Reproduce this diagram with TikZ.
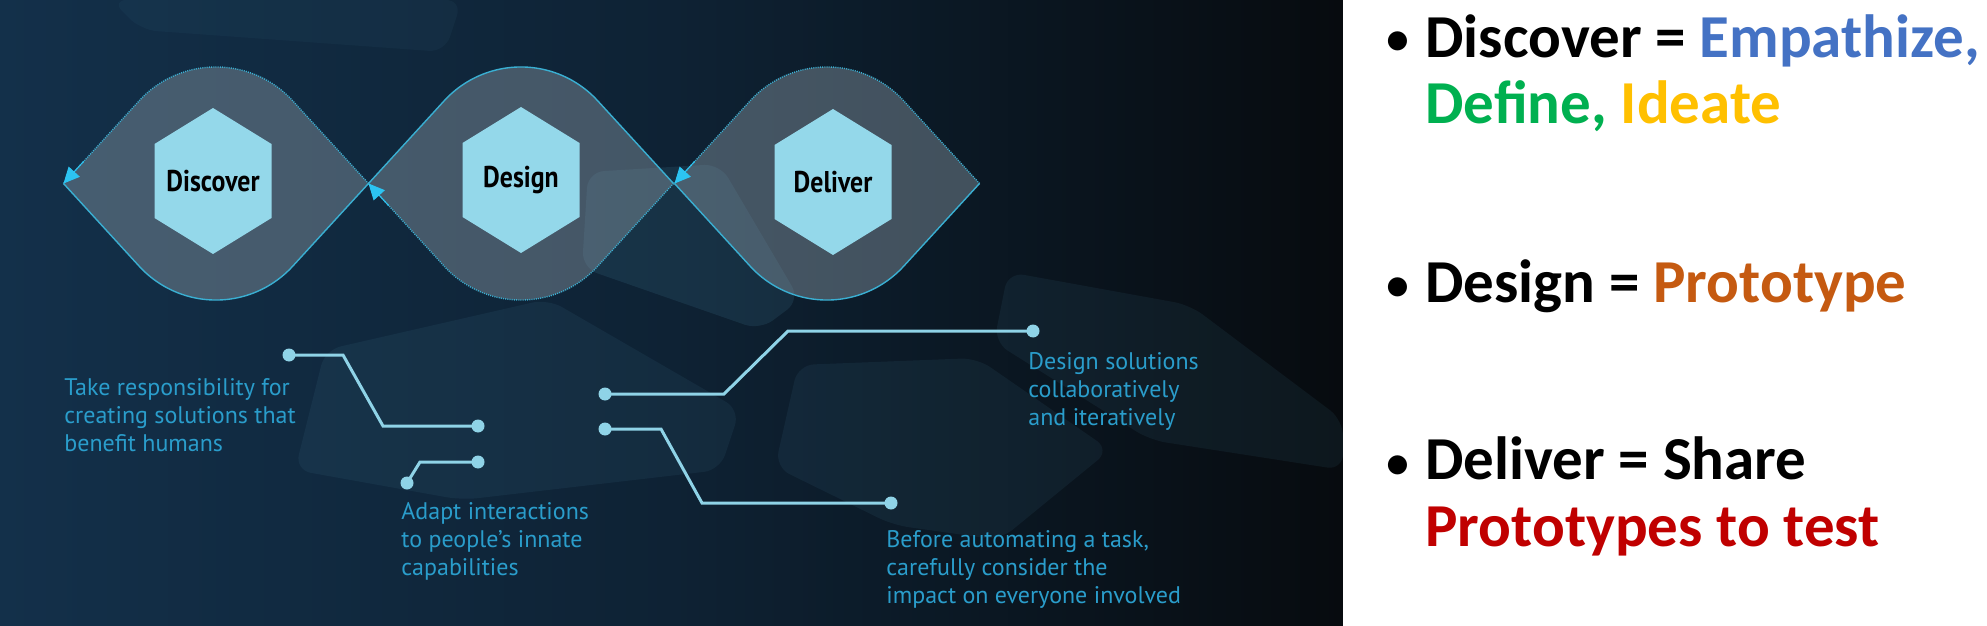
\documentclass[tikz,border=0pt]{standalone}
\usepackage{fontspec}
\usetikzlibrary{arrows.meta}
\newfontfamily\descfont{PT Sans}
\newfontfamily\hexfont[FakeStretch=0.86]{PT Sans}
\newfontfamily\rfont{Carlito}
\definecolor{bgL}{HTML}{13304A}
\definecolor{bgM}{HTML}{0E2234}
\definecolor{bgR}{HTML}{070B0F}
\definecolor{lensfillc}{HTML}{8797A3}
\definecolor{lenscol}{HTML}{3AAFD2}
\definecolor{arrowc}{HTML}{2CC4F2}
\definecolor{hexfillc}{HTML}{94D8EA}
\definecolor{conncol}{HTML}{8FD3E7}
\definecolor{desccol}{HTML}{2A9DCB}
\definecolor{blobc}{HTML}{5FA9C8}
\definecolor{empblue}{HTML}{4472C4}
\definecolor{defgreen}{HTML}{00B050}
\definecolor{idgold}{HTML}{FFC000}
\definecolor{protoorange}{HTML}{C55A11}
\definecolor{testred}{HTML}{C00000}
\tikzset{
  solidedge/.style={draw=lenscol, line width=0.7pt},
  dotedge/.style={draw=lenscol, line width=0.7pt, dash pattern=on 0.5pt off 0.6pt},
  tipline/.style={draw=arrowc, line width=0.5pt, -{Triangle[length=8pt,width=7.5pt]}, arrowc},
  blob/.style={fill=blobc, fill opacity=0.08, rounded corners=8pt},
  conn/.style={draw=conncol, line width=1.5pt},
  dotnode/.style={circle, fill=conncol, minimum size=6.5pt, inner sep=0pt},
  desc/.style={text=desccol, font=\descfont\fontsize{12}{14}\selectfont, align=left, anchor=base west, inner sep=0pt},
  hexlabel/.style={font=\hexfont\bfseries\fontsize{15}{17}\selectfont, text=black, inner sep=0pt},
  rtext/.style={font=\rfont\bfseries\fontsize{30.5}{33.25}\selectfont, align=left, anchor=base west, inner sep=0pt},
  rbullet/.style={font=\rfont\fontsize{27}{29}\selectfont, anchor=base west, inner sep=0pt},
}
\newcommand\lensarea[1]{\fill[lensfillc, fill opacity=0.45] (#1-152.5,-183.5) -- (#1-77.1,-101.1) arc[start angle=137.8,end angle=42.2,radius=104] -- (#1+152.5,-183.5) -- (#1+77.1,-265.9) arc[start angle=317.8,end angle=222.2,radius=104] -- cycle;}
\newcommand\tophalf[2]{\draw[#2] (#1-152.5,-183.5) -- (#1-77.1,-101.1) arc[start angle=137.8,end angle=42.2,radius=104] -- (#1+152.5,-183.5);}
\newcommand\bothalf[2]{\draw[#2] (#1-152.5,-183.5) -- (#1-77.1,-265.9) arc[start angle=222.2,end angle=317.8,radius=104] -- (#1+152.5,-183.5);}
\newcommand\hexa[2]{\fill[hexfillc] (#1,-#2+73) -- (#1+58.5,-#2+37) -- (#1+58.5,-#2-37) -- (#1,-#2-73) -- (#1-58.5,-#2-37) -- (#1-58.5,-#2+37) -- cycle;}
\begin{document}
\begin{tikzpicture}[x=0.5pt,y=0.5pt]
\useasboundingbox (0,0) rectangle (1987,-626);
% background
\shade[left color=bgL, right color=bgR, middle color=bgM] (0,0) rectangle (1343,-626);
% translucent shapes
\fill[blob, fill opacity=0.05] (111,0) -- (141,-30) -- (445,-52) -- (462,0) -- cycle;
\fill[blob, fill opacity=0.12] (588,-172) -- (720,-164) -- (800,-300) -- (760,-330) -- (582,-268) -- cycle;
\fill[blob] (325,-350) -- (548,-299) -- (740,-410) -- (720,-470) -- (462,-500) -- (295,-470) -- cycle;
\fill[blob] (1008,-272) -- (1190,-305) -- (1343,-420) -- (1343,-470) -- (1150,-440) -- (994,-342) -- cycle;
\fill[blob] (798,-365) -- (977,-358) -- (1110,-450) -- (1000,-540) -- (893,-525) -- (775,-467) -- cycle;
% lenses
\lensarea{216}
\lensarea{521}
\lensarea{827}
\tophalf{216}{dotedge}
\bothalf{216}{solidedge}
\tophalf{521}{solidedge}
\bothalf{521}{dotedge}
\tophalf{827}{dotedge}
\bothalf{827}{solidedge}
% arrow tips on the dotted halves
\coordinate (t1) at (63.5,-183.5);
\coordinate (t2) at (368.5,-183.5);
\coordinate (t3) at (674.5,-183.5);
\draw[tipline] (63.5+20.2,-183.5+22.2) -- (t1);
\draw[tipline] (368.5+20.2,-183.5-22.2) -- (t2);
\draw[tipline] (674.5+20.2,-183.5+22.2) -- (t3);
% hexagons
\hexa{213}{181}
\hexa{521}{180}
\hexa{833}{182}
\node[hexlabel] (discover) at (213,-181) {Discover};
\node[hexlabel] (design) at (521,-180) {Design};
\node[hexlabel] (deliver) at (833,-182) {Deliver};
% connectors
\node[dotnode] (a1) at (289,-355) {};
\node[dotnode] (a2) at (478,-426) {};
\node[dotnode] (b1) at (407,-483) {};
\node[dotnode] (b2) at (478,-462) {};
\node[dotnode] (c1) at (605,-394) {};
\node[dotnode] (c2) at (1033,-331) {};
\node[dotnode] (d1) at (605,-429) {};
\node[dotnode] (d2) at (891,-503) {};
\draw[conn] (a1.center) -- (343,-355) -- (383,-426) -- (a2.center);
\draw[conn] (b1.center) -- (420,-462) -- (b2.center);
\draw[conn] (c1.center) -- (724,-394) -- (788,-331) -- (c2.center);
\draw[conn] (d1.center) -- (661,-429) -- (702,-503) -- (d2.center);
% descriptions (anchored at the baseline of their last line)
\node[desc] (txa) at (64,-451) {Take responsibility for\\creating solutions that\\benefit humans};
\node[desc] (txb) at (401,-575) {Adapt interactions\\to people’s innate\\capabilities};
\node[desc] (txc) at (1028,-425) {Design solutions\\collaboratively\\and iteratively};
\node[desc] (txd) at (886,-603) {Before automating a task,\\carefully consider the\\impact on everyone involved};
% right panel
\fill[white] (1343,0) rectangle (1987,-626);
\node[rbullet] (bu1) at (1384,-57) {\textbullet};
\node[rbullet] (bu2) at (1384,-302) {\textbullet};
\node[rbullet] (bu3) at (1384,-480) {\textbullet};
\node[rtext] (r1) at (1425,-124) {Discover = \textcolor{empblue}{Empathize,}\\\textcolor{defgreen}{Define,} \textcolor{idgold}{Ideate}};
\node[rtext] (r2) at (1425,-302) {Design = \textcolor{protoorange}{Prototype}};
\node[rtext] (r3) at (1425,-546) {Deliver = Share\\\textcolor{testred}{Prototypes to test}};
\end{tikzpicture}
\end{document}
